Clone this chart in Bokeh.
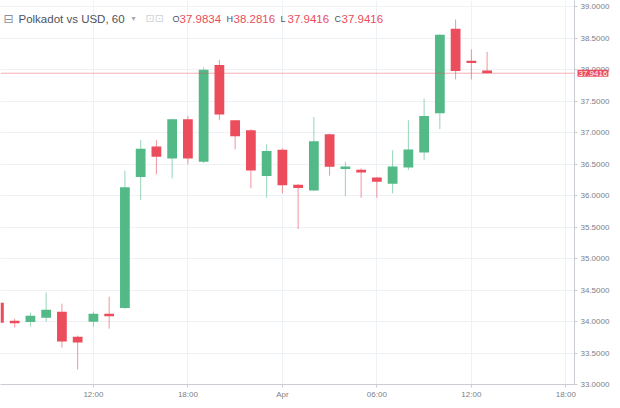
import pandas as pd
from bokeh.plotting import figure
from bokeh.models import (ColumnDataSource, Range1d, FixedTicker, SingleIntervalTicker,
                          PrintfTickFormatter, Span, Label)
from bokeh.embed import file_html
from bokeh.resources import INLINE

# ---------------- data ----------------
first_bar = "2021-03-31 06:00"
opens  = [34.298, 34.013, 33.993, 34.061, 34.156, 33.760, 33.998, 34.124,
          34.215, 36.293, 36.779, 36.589, 37.211, 36.535, 38.071, 37.195,
          37.037, 36.309, 36.725, 36.171, 36.079, 36.974, 36.420, 36.409,
          36.288, 36.187, 36.443, 36.684, 37.306, 38.647, 38.140, 37.9834]
highs  = [34.360, 34.045, 34.140, 34.461, 34.283, 33.776, 34.156, 34.393,
          36.393, 36.879, 36.879, 37.215, 37.263, 38.034, 38.153, 37.200,
          37.053, 36.815, 36.747, 36.180, 37.248, 36.980, 36.535, 36.431,
          36.290, 36.720, 37.195, 37.539, 38.560, 38.794, 38.319, 38.2816]
lows   = [33.920, 33.903, 33.918, 33.998, 33.586, 33.238, 33.918, 33.887,
          34.200, 35.929, 36.336, 36.272, 36.494, 36.515, 37.195, 36.731,
          36.114, 35.965, 36.035, 35.470, 36.070, 36.314, 35.992, 35.965,
          35.965, 36.035, 36.404, 36.562, 37.053, 37.844, 37.844, 37.9416]
closes = [33.982, 33.971, 34.093, 34.188, 33.681, 33.665, 34.124, 34.082,
          36.130, 36.741, 36.614, 37.211, 36.589, 37.998, 37.286, 36.942,
          36.399, 36.705, 36.162, 36.119, 36.863, 36.456, 36.462, 36.367,
          36.219, 36.462, 36.731, 37.263, 38.552, 37.976, 38.102, 37.9416]

tick_hours  = [-18, -12, -6, 0, 6, 12, 18]
tick_labels = ["06:00", "12:00", "18:00", "Apr", "06:00", "12:00", "18:00"]
price_ticks = 0.5
last_price = 37.9416

title_text = "Polkadot vs USD, 60"
ohlc_letters = ["O", "H", "L", "C"]
ohlc_values = ["37.9834", "38.2816", "37.9416", "37.9416"]

UP = "#53b987"
DOWN = "#eb4d5c"

# ---------------- table ----------------
times = pd.date_range(first_bar, periods=len(opens), freq="h")
hours = list((times - pd.Timestamp("2021-04-01 00:00")) / pd.Timedelta(hours=1))
colors = [UP if c >= o else DOWN for o, c in zip(opens, closes)]
src = ColumnDataSource(dict(
    x=hours, open=opens, high=highs, low=lows, close=closes,
    top=[max(o, c) for o, c in zip(opens, closes)],
    bottom=[min(o, c) for o, c in zip(opens, closes)],
    color=colors,
))

# ---------------- figure ----------------
x_end = 18.55
p = figure(width=612, height=408, output_backend="svg", toolbar_location=None,
           x_range=Range1d(-17.90, x_end), y_range=Range1d(33.0, 39.096),
           y_axis_location="right",
           min_border_left=0, min_border_top=0,
           min_border_right=35, min_border_bottom=0)
p.background_fill_color = "white"
p.border_fill_color = "white"
p.outline_line_color = None

# axes
xa = p.xaxis[0]
xa.ticker = FixedTicker(ticks=tick_hours)
xa.major_label_overrides = dict(zip(tick_hours, tick_labels))
ya = p.yaxis[0]
ya.ticker = SingleIntervalTicker(interval=price_ticks)
ya.formatter = PrintfTickFormatter(format="%.4f")
for ax in (xa, ya):
    ax.axis_line_color = "#c9ccd2"
    ax.major_tick_line_color = "#c9ccd2"
    ax.major_tick_out = 3
    ax.major_tick_in = 0
    ax.minor_tick_line_color = None
    ax.major_label_text_font = "Liberation Sans"
    ax.major_label_text_font_size = "8px"
    ax.major_label_text_color = "#7d8089"
    ax.major_label_standoff = 2

p.xgrid.grid_line_color = "#eef1f5"
p.ygrid.grid_line_color = "#eef1f5"

# candles
p.segment(x0="x", y0="low", x1="x", y1="high", line_color="color",
          line_alpha=0.6, line_width=1, source=src)
p.vbar(x="x", width=0.62, top="top", bottom="bottom", fill_color="color",
       line_color=None, source=src)

# last price line + marker on the price scale (side-panel label is not clipped)
p.add_layout(Span(location=last_price, dimension="width", line_color=DOWN,
                  line_alpha=0.45, line_width=1))
p.add_layout(Label(x=x_end, y=last_price, text=f"{last_price:.4f}",
                   text_color="white", text_font="Liberation Sans",
                   text_font_size="8px", text_baseline="middle",
                   text_align="left", x_offset=3,
                   background_fill_color=DOWN, padding=1), "below")

# header legend
HY = 366
def hdr(x, text, color, size, font="Liberation Sans"):
    p.add_layout(Label(x=x, y=HY, x_units="screen", y_units="screen", text=text,
                       text_color=color, text_font=font, text_font_size=size,
                       text_baseline="middle", text_align="left"))

hdr(3, "\u229f", "#8a8f99", "12px", "DejaVu Sans")
hdr(18, title_text, "#4c525e", "11.5px")
hdr(131, "\u25be", "#a3a6af", "8px", "DejaVu Sans")
hdr(145, "\u22a1\u22a1", "#cfd2d8", "11px", "DejaVu Sans")
for i, (l, v) in enumerate(zip(ohlc_letters, ohlc_values)):
    x0 = 172 + 54 * i
    hdr(x0, l, "#4c525e", "9px")
    hdr(x0 + 7, v, DOWN, "11.5px")

open("out.html", "w").write(file_html(p, INLINE))
